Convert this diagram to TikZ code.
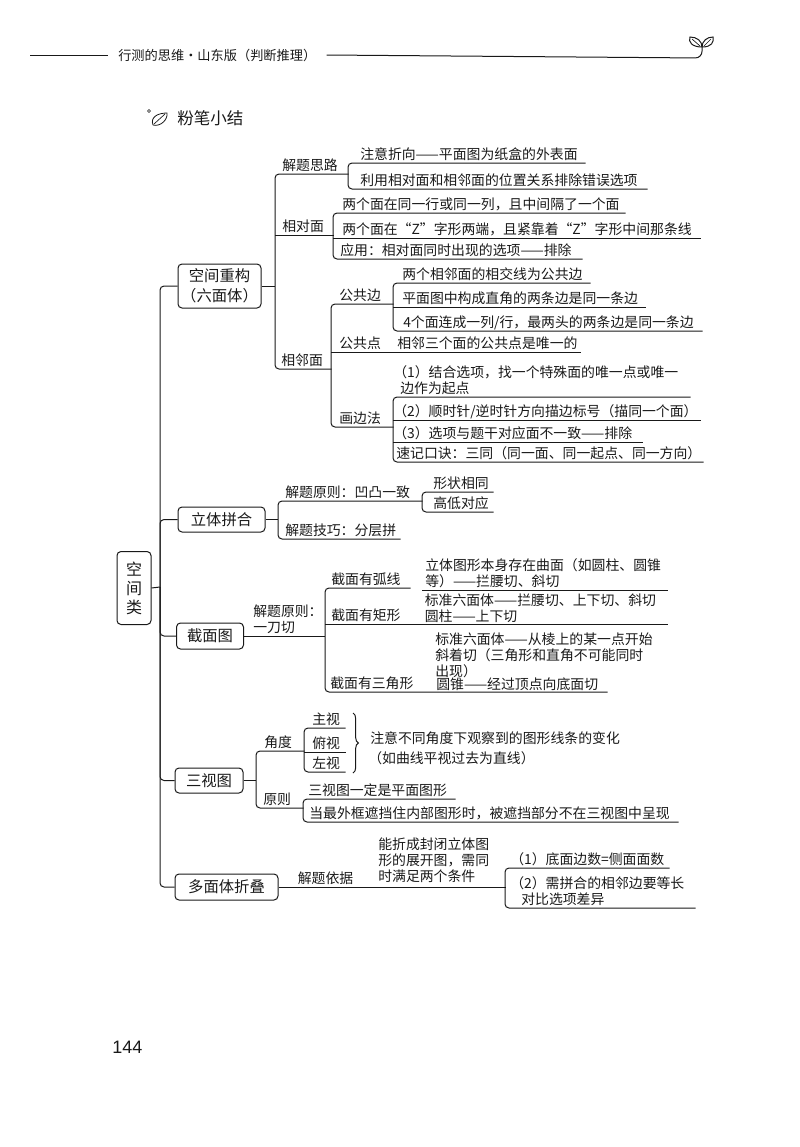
\documentclass[tikz,border=0pt]{standalone}
\usepackage{fontspec}
\setmainfont{Noto Sans CJK SC}
\newfontfamily\pagefont{Liberation Sans}
\usetikzlibrary{decorations.pathreplacing}
\definecolor{inkcolor}{RGB}{25,25,25}
\newdimen\pxu
\pxu=0.75pt
\newcommand{\indt}[1]{\hspace*{#1\pxu}}
% full-width punctuation
\newcommand{\zkl}{\char"FF08\relax}
\newcommand{\zkr}{\char"FF09\relax}
\newcommand{\zdh}{\char"FF0C\relax}
\newcommand{\zmh}{\char"FF1A\relax}
\tikzset{
    link/.style={inkcolor, line width=0.75pt},
    curvelink/.style={link, rounded corners=3pt},
    leaf/.style={inkcolor, font=\fontsize{10.4}{12}\selectfont, anchor=south west, inner sep=0pt, text depth=3\pxu, align=left, text width=#1\pxu},
    note/.style={inkcolor, font=\fontsize{10.4}{12}\selectfont, anchor=west, inner sep=0pt, align=left},
    topic/.style={inkcolor, draw, line width=0.75pt, rounded corners=3pt, font=\fontsize{11.5}{15}\selectfont, inner sep=0pt, align=center}
}

\begin{document}
\begin{tikzpicture}[x=0.75pt, y=-0.75pt]
    \useasboundingbox (0,0) rectangle (800,1147);

    % === 页眉 ===
    \node[inkcolor, font=\fontsize{9.9}{12}\selectfont, inner xsep=10\pxu, inner ysep=0pt, anchor=west] (head) at (108,55) {行测的思维·山东版\zkl 判断推理\zkr};
    \coordinate (headleft) at (30,55);
    \coordinate (headright) at (702,47);
    \draw[link] (headleft) -- (head.west);
    \draw[link, rounded corners=5pt] (head.east) -- (702,58) -- (headright);
    \draw[link] (headright) .. controls (692,47) and (688,42) .. (690,37) .. controls (697,37) and (702,41) .. (headright);
    \draw[link] (headright) .. controls (712,47) and (714,42) .. (713,37) .. controls (707,37) and (702,41) .. (headright);
    \draw[link, line width=0.5pt] (692,39) -- (700,46);
    \draw[link, line width=0.5pt] (711,39) -- (704,46);

    % === 标题 ===
    \node[inkcolor, font=\fontsize{12.4}{15}\selectfont, inner sep=0pt, anchor=west] (title) at (177,118) {粉笔小结};
    \draw[link, line width=0.5pt] (149,111) circle (1.5);
    \draw[link, line width=0.6pt] (153,125) .. controls (150,117) and (158,113) .. (167,113) .. controls (168,120) and (160,127) .. (153,125);
    \draw[link, line width=0.5pt] (154,124) -- (165,114);

    % === 根 ===
    \node[topic, font=\fontsize{12}{14.25}\selectfont, minimum width=34\pxu, minimum height=73\pxu] (root) at (134,588) {空\\间\\类};
    \coordinate (trunk) at (160,587);
    \draw[link] (root.east) -- (trunk);

    % === 空间重构 ===
    \node[topic, minimum width=83\pxu, minimum height=44\pxu] (rebuild) at (219.5,286) {空间重构\\\zkl 六面体\zkr};
    \draw[curvelink] (rebuild.west) -| (trunk);
    \coordinate (rebuildhub) at (275,286);
    \draw[link] (rebuild.east) -- (rebuildhub);

    \node[leaf=73] (idea) at (275,174) {\indt{7}解题思路};
    \node[leaf=58] (opposite) at (275,235) {\indt{7}相对面};
    \node[leaf=56] (adjacent) at (275,369) {\indt{6}相邻面};
    \draw[curvelink] (idea.south east) -- (idea.south west) -- (adjacent.south west) -- (adjacent.south east);
    \draw[link] (opposite.south west) -- (opposite.south east);

    % 解题思路
    \node[leaf=237] (ideaa) at (348,163) {\indt{12}注意折向——平面图为纸盒的外表面};
    \node[leaf=299] (ideab) at (348,189) {\indt{12}利用相对面和相邻面的位置关系排除错误选项};
    \draw[curvelink] (ideaa.south east) -- (ideaa.south west) -- (ideab.south west) -- (ideab.south east);

    % 相对面
    \node[leaf=292] (oppa) at (333,213) {\indt{9}两个面在同一行或同一列\zdh 且中间隔了一个面};
    \node[leaf=367] (oppb) at (333,238) {\indt{9}两个面在“Z”字形两端\zdh 且紧靠着“Z”字形中间那条线};
    \node[leaf=249] (oppc) at (333,259) {\indt{7}应用\zmh 相对面同时出现的选项——排除};
    \draw[curvelink] (oppa.south east) -- (oppa.south west) -- (oppc.south west) -- (oppc.south east);
    \draw[link] (oppb.south west) -- (oppb.south east);

    % 相邻面
    \node[leaf=62] (sharededge) at (331,304) {\indt{8}公共边};
    \node[leaf=249] (corner) at (331,352) {\indt{8}公共点};
    \node[note] (cornernote) at (397,343) {相邻三个面的公共点是唯一的};
    \node[leaf=62] (trace) at (331,427) {\indt{8}画边法};
    \draw[curvelink] (sharededge.south east) -- (sharededge.south west) -- (trace.south west) -- (trace.south east);
    \draw[link] (corner.south west) -- (corner.south east);

    \node[leaf=197] (edgea) at (393,283) {\indt{9}两个相邻面的相交线为公共边};
    \node[leaf=252] (edgeb) at (393,307) {\indt{9}平面图中构成直角的两条边是同一条边};
    \node[leaf=309] (edgec) at (393,331) {\indt{10}4个面连成一列/行\zdh 最两头的两条边是同一条边};
    \draw[curvelink] (edgea.south east) -- (edgea.south west) -- (edgec.south west) -- (edgec.south east);
    \draw[link] (edgeb.south west) -- (edgeb.south east);

    \node[leaf=297, text depth=19\pxu] (tracea) at (393,397) {\zkl 1\zkr 结合选项\zdh 找一个特殊面的唯一点或唯一\\\indt{7}边作为起点};
    \node[leaf=307] (traceb) at (393,420) {\zkl 2\zkr 顺时针/逆时针方向描边标号\zkl 描同一个面\zkr};
    \node[leaf=249] (tracec) at (393,442) {\zkl 3\zkr 选项与题干对应面不一致——排除};
    \node[leaf=310] (traced) at (393,462) {\indt{3}速记口诀\zmh 三同\zkl 同一面、同一起点、同一方向\zkr};
    \draw[curvelink] (tracea.south east) -- (tracea.south west) -- (traced.south west) -- (traced.south east);
    \draw[link] (traceb.south west) -- (traceb.south east);
    \draw[link] (tracec.south west) -- (tracec.south east);

    % === 立体拼合 ===
    \node[topic, minimum width=87\pxu, minimum height=25\pxu] (splice) at (221.5,519.5) {立体拼合};
    \draw[curvelink] (splice.west) -| (trunk);
    \coordinate (splicehub) at (278,519.5);
    \draw[link] (splice.east) -- (splicehub);

    \node[leaf=144] (splicerule) at (278,501) {\indt{7}解题原则\zmh 凹凸一致};
    \node[leaf=122] (splicetip) at (278,539) {\indt{7}解题技巧\zmh 分层拼};
    \draw[curvelink] (splicerule.south east) -- (splicerule.south west) -- (splicetip.south west) -- (splicetip.south east);

    \node[leaf=71] (sameshape) at (422,492) {\indt{11}形状相同};
    \node[leaf=71] (sameheight) at (422,512) {\indt{11}高低对应};
    \draw[curvelink] (sameshape.south east) -- (sameshape.south west) -- (sameheight.south west) -- (sameheight.south east);

    % === 截面图 ===
    \node[topic, minimum width=67\pxu, minimum height=26\pxu] (section) at (210,636) {截面图};
    \draw[curvelink] (section.west) -| (trunk);
    \coordinate (sectionhub) at (325,636);
    \draw[link] (section.east) -- (sectionhub);
    \node[note] (sectionrule) at (253,619.5) {解题原则\zmh\\一刀切};

    \node[leaf=85] (arccut) at (325,588) {\indt{6}截面有弧线};
    \node[leaf=342] (rectcut) at (325,624) {\indt{6}截面有矩形};
    \node[leaf=282] (tricut) at (325,692) {\indt{5}截面有三角形};
    \draw[curvelink] (arccut.south east) -- (arccut.south west) -- (tricut.south west) -- (tricut.south east);
    \draw[link] (rectcut.south west) -- (rectcut.south east);

    \node[leaf=245, text depth=19\pxu] (arcnote) at (422,590) {\indt{3}立体图形本身存在曲面\zkl 如圆柱、圆锥\\\indt{3}等\zkr——拦腰切、斜切};
    \draw[link] (arcnote.south west) -- (arcnote.south east);
    \node[note] (rectnote) at (424.5,608) {标准六面体——拦腰切、上下切、斜切\\圆柱——上下切};
    \node[note] (trinote) at (435,655) {标准六面体——从棱上的某一点开始\\斜着切\zkl 三角形和直角不可能同时\\出现\zkr};
    \node[note] (conenote) at (436,684) {圆锥——经过顶点向底面切};

    % === 三视图 ===
    \node[topic, minimum width=68\pxu, minimum height=25\pxu] (views) at (209,780.5) {三视图};
    \draw[curvelink] (views.west) -| (trunk);
    \coordinate (viewshub) at (256,780.5);
    \draw[link] (views.east) -- (viewshub);

    \node[leaf=48] (angle) at (256,751) {\indt{8}角度};
    \node[leaf=47] (principle) at (256,808) {\indt{7}原则};
    \draw[curvelink] (angle.south east) -- (angle.south west) -- (principle.south west) -- (principle.south east);

    \node[leaf=41] (frontview) at (304,728) {\indt{8}主视};
    \node[leaf=41] (topview) at (304,752) {\indt{8}俯视};
    \node[leaf=41] (sideview) at (304,772) {\indt{8}左视};
    \draw[curvelink] (frontview.south east) -- (frontview.south west) -- (sideview.south west) -- (sideview.south east);
    \draw[link] (topview.south west) -- (topview.south east);
    \coordinate (bracetop) at (353,713);
    \coordinate (bracebot) at (353,773);
    \draw[link, decorate, decoration={brace, amplitude=4pt}] (bracetop) -- (bracebot);
    \node[note] (changea) at (370,738) {注意不同角度下观察到的图形线条的变化};
    \node[note] (changeb) at (368,758) {\zkl 如曲线平视过去为直线\zkr};

    \node[leaf=152] (plane) at (303,799) {\indt{5}三视图一定是平面图形};
    \node[leaf=375] (hidden) at (303,822) {\indt{6}当最外框遮挡住内部图形时\zdh 被遮挡部分不在三视图中呈现};
    \draw[curvelink] (plane.south east) -- (plane.south west) -- (hidden.south west) -- (hidden.south east);

    % === 多面体折叠 ===
    \node[topic, minimum width=103\pxu, minimum height=26\pxu] (fold) at (226.5,887) {多面体折叠};
    \draw[curvelink] (fold.west) -| (trunk);
    \node[leaf=227] (basis) at (fold.east) {\indt{19}解题依据};
    \draw[link] (basis.south west) -- (basis.south east);
    \node[note] (foldnote) at (378,860.5) {能折成封闭立体图\\形的展开图\zdh 需同\\时满足两个条件};

    \node[leaf=164] (folda) at (505,868) {\indt{5}\zkl 1\zkr 底面边数=侧面面数};
    \node[leaf=190, text depth=19\pxu] (foldb) at (505,908) {\indt{5}\zkl 2\zkr 需拼合的相邻边要等长\\\indt{16}对比选项差异};
    \draw[curvelink] (folda.south east) -- (folda.south west) -- (foldb.south west) -- (foldb.south east);

    % === 页码 ===
    \node[inkcolor, font=\pagefont\fontsize{13.5}{15}\selectfont, inner sep=0pt, anchor=west] (page) at (112,1047) {144};
\end{tikzpicture}
\end{document}
